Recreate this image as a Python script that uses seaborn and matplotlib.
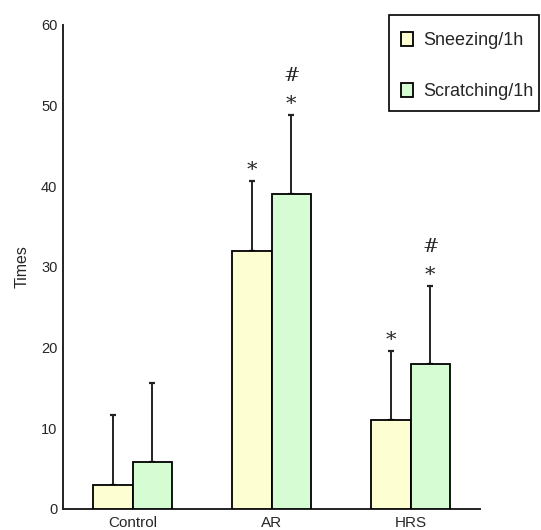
import numpy as np
import pandas as pd
import matplotlib
matplotlib.use("Agg")
import matplotlib.pyplot as plt
import seaborn as sns
from matplotlib.patches import Patch, Rectangle

groups = ["Control", "AR", "HRS"]
series = ["Sneezing/1h", "Scratching/1h"]
sneezing = [3, 32, 11]
scratching = [5.8, 39, 18]
sneezing_sd = [8.6, 8.7, 8.6]
scratching_sd = [9.8, 9.8, 9.6]
# significance marks: "*" vs control, "#" vs sneezing
star_marks = [[False, True, True], [False, True, True]]
hash_marks = [[False, False, False], [False, True, True]]
colors = ["#FEFED3", "#D6FCD4"]

df = pd.DataFrame({
    "group": groups * 2,
    "series": [series[0]] * 3 + [series[1]] * 3,
    "value": sneezing + scratching,
})

sns.set_style("white")
plt.rcParams["font.family"] = ["Liberation Sans", "DejaVu Sans"]

W, H = 541, 530
fig = plt.figure(figsize=(W / 100, H / 100), dpi=100)
ax = fig.add_axes([63 / W, 1 - 509 / H, (480 - 63) / W, (509 - 25) / H])

sns.barplot(data=df, x="group", y="value", hue="series", order=groups,
            hue_order=series, palette=colors, saturation=1, width=0.57,
            edgecolor="black", linewidth=1.3, errorbar=None, legend=False,
            ax=ax, zorder=3)

# one-sided (upward) error bars from the bar centres, with significance marks
bar_w = 0.57 / 2
for i, (vals, sds) in enumerate([(sneezing, sneezing_sd), (scratching, scratching_sd)]):
    xs = np.arange(len(groups)) + (i - 0.5) * bar_w
    ax.errorbar(xs, vals, yerr=[np.zeros(len(vals)), sds], fmt="none",
                ecolor="#222222", elinewidth=1.4, capsize=2.5, capthick=1.6, zorder=2)
    for j, (x, v, s) in enumerate(zip(xs, vals, sds)):
        top = v + s
        if star_marks[i][j]:
            ax.text(x, top + 1.3, "*", ha="center", va="center",
                    family="DejaVu Serif", fontsize=15)
        if hash_marks[i][j]:
            ax.text(x, top + 4.9, "#", ha="center", va="center",
                    family="DejaVu Serif", fontsize=14)

ax.set_xlim(-0.5, 2.5)
ax.set_ylim(0, 60)
ax.set_yticks([0, 10, 20, 30, 40, 50, 60])
ax.set_xticks([0.5, 1.5, 2.5])
ax.set_xticklabels([])
ax.set_xticks([0, 1, 2], minor=True)
ax.set_xticklabels(groups, minor=True)
ax.tick_params(axis="x", which="major", direction="in", length=6, width=1.3, color="#222222")
ax.tick_params(axis="x", which="minor", length=0, labelsize=11, pad=5)
ax.tick_params(axis="y", direction="in", length=7, width=1.3, color="#222222",
               labelsize=10.5, pad=4)
ax.set_xlabel("")
ax.set_ylabel("Times", fontsize=11.5, labelpad=8)
sns.despine(ax=ax)
for sp in ["left", "bottom"]:
    ax.spines[sp].set_linewidth(1.4)
    ax.spines[sp].set_color("#222222")

# legend: frameless entries inside a plain black box
fig.patches.append(Rectangle((389 / W, 1 - 111 / H), 150 / W, 96 / H,
                             transform=fig.transFigure, facecolor="white",
                             edgecolor="black", linewidth=1.2, zorder=5))
handles = [Patch(facecolor=c, edgecolor="black", linewidth=1.3) for c in colors]
leg = fig.legend(handles, series, loc="upper left",
                 bbox_to_anchor=(401 / W, 1 - 32 / H), frameon=False,
                 fontsize=13, handlelength=0.65, handleheight=0.85,
                 handletextpad=0.6, labelspacing=1.85, borderpad=0,
                 borderaxespad=0)
leg.set_zorder(6)

fig.savefig("out.png", dpi=100)
